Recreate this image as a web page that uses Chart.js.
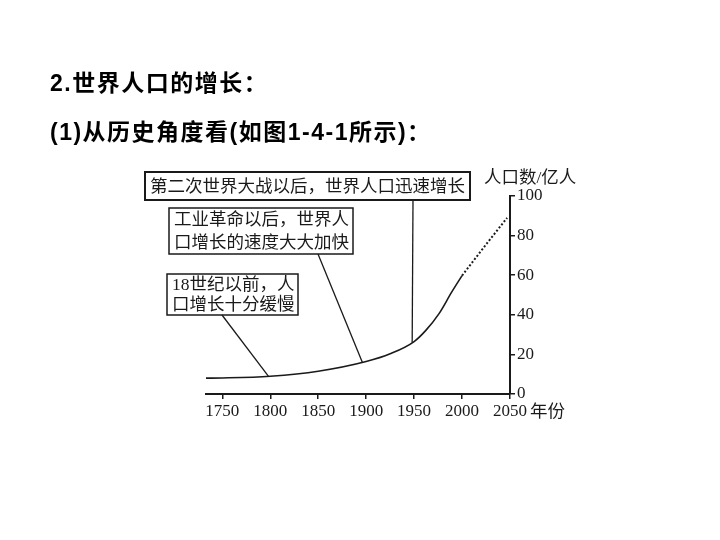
<!DOCTYPE html>
<html>
<head>
<meta charset="utf-8">
<script src="https://cdn.jsdelivr.net/npm/chart.js@4"></script>
<style>
    body { margin: 0; background: #fff; }
    #wrap { position: relative; width: 720px; height: 540px; }
    .heading {
        position: absolute; left: 50px;
        font: bold 23px "Liberation Sans", "Noto Sans CJK SC", sans-serif;
        letter-spacing: 1.5px;
        color: #000; white-space: nowrap;
    }
</style>
</head>
<body>
<div id="wrap">
    <canvas id="popChart" width="720" height="540"></canvas>
    <div class="heading" style="top:64px">2.世界人口的增长：</div>
    <div class="heading" style="top:113px">(1)从历史角度看(如图1-4-1所示)：</div>
</div>
<script>
// population (亿人)
const pastYears = [1733, 1750, 1800, 1850, 1900, 1925, 1950, 1962, 1976, 1989, 2000];
const pastValues = [8.0, 8.1, 9.0, 11.5, 16.4, 20.3, 26.5, 32, 40.6, 51.3, 59.8];
const futureYears = [2000, 2025, 2047];
const futureValues = [59.8, 75.5, 89];
const xTicks = [1750, 1800, 1850, 1900, 1950, 2000, 2050];
const yTicks = [0, 20, 40, 60, 80, 100];

const yAxisTitle = '人口数/亿人';
const xAxisTitle = '年份';

// callout boxes: text lines, box rect in px, leader line start in px, end on the curve (year, value)
const notes = [
    { lines: ['第二次世界大战以后，世界人口迅速增长'], box: [145, 172, 470, 200], from: [413, 200], to: [1948, 26], border: 2 },
    { lines: ['工业革命以后，世界人', '口增长的速度大大加快'], box: [169, 208, 353, 254], from: [318, 254], to: [1896, 16], border: 1.5 },
    { lines: ['18世纪以前，人', '口增长十分缓慢'], box: [167, 274, 298, 315], from: [222, 315], to: [1798, 9], border: 1.5 }
];

const textFont = '17.5px "Liberation Serif", "Noto Sans CJK SC", serif';
const ink = '#1a1a1a';

const notesPlugin = {
    id: 'notes',
    afterDraw(chart) {
        const ctx = chart.ctx;
        const xs = chart.scales.x, ys = chart.scales.y;
        ctx.save();
        ctx.fillStyle = ink;
        ctx.strokeStyle = ink;
        ctx.font = textFont;
        ctx.textBaseline = 'middle';

        notes.forEach(n => {
            const [l, t, r, b] = n.box;
            ctx.lineWidth = n.border;
            ctx.strokeRect(l, t, r - l, b - t);
            const lh = (b - t) / n.lines.length;
            n.lines.forEach((s, i) => {
                ctx.textAlign = 'left';
                ctx.fillText(s, l + 5, t + lh * (i + 0.5) + 1);
            });
            ctx.lineWidth = 1.3;
            ctx.beginPath();
            ctx.moveTo(n.from[0], n.from[1]);
            ctx.lineTo(xs.getPixelForValue(n.to[0]), ys.getPixelForValue(n.to[1]));
            ctx.stroke();
        });

        ctx.textAlign = 'left';
        ctx.fillText(yAxisTitle, 484, 178);
        ctx.fillText(xAxisTitle, 530, 412);
        ctx.restore();
    }
};

new Chart(document.getElementById('popChart'), {
    type: 'line',
    data: {
        datasets: [
            {
                data: pastYears.map((x, i) => ({ x, y: pastValues[i] })),
                borderColor: ink, borderWidth: 1.6, pointRadius: 0,
                cubicInterpolationMode: 'monotone'
            },
            {
                data: futureYears.map((x, i) => ({ x, y: futureValues[i] })),
                borderColor: ink, borderWidth: 2, pointRadius: 0,
                borderDash: [2, 2]
            }
        ]
    },
    options: {
        responsive: false,
        animation: false,
        devicePixelRatio: 1,
        layout: { padding: { left: 206, top: 196, right: 0, bottom: 0 } },
        plugins: { legend: { display: false }, tooltip: { enabled: false } },
        scales: {
            x: {
                type: 'linear', min: 1733, max: 2050,
                afterBuildTicks: axis => { axis.ticks = xTicks.map(v => ({ value: v })); },
                afterFit: axis => { axis.height = 146; },
                grid: { drawOnChartArea: false, tickLength: 5, tickColor: ink, lineWidth: 1.5 },
                border: { display: true, color: ink, width: 2 },
                ticks: {
                    color: ink, font: { family: '"Liberation Serif", serif', size: 17 }, padding: 2, maxRotation: 0,
                    callback: v => String(v)
                }
            },
            y: {
                position: 'right', min: 0, max: 100,
                afterBuildTicks: axis => { axis.ticks = yTicks.map(v => ({ value: v })); },
                afterFit: axis => { axis.width = 210; },
                grid: { drawOnChartArea: false, tickLength: 5, tickColor: ink, lineWidth: 1.5 },
                border: { display: true, color: ink, width: 2 },
                ticks: { color: ink, font: { family: '"Liberation Serif", serif', size: 17 }, padding: 2 }
            }
        }
    },
    plugins: [notesPlugin]
});
</script>
</body>
</html>
